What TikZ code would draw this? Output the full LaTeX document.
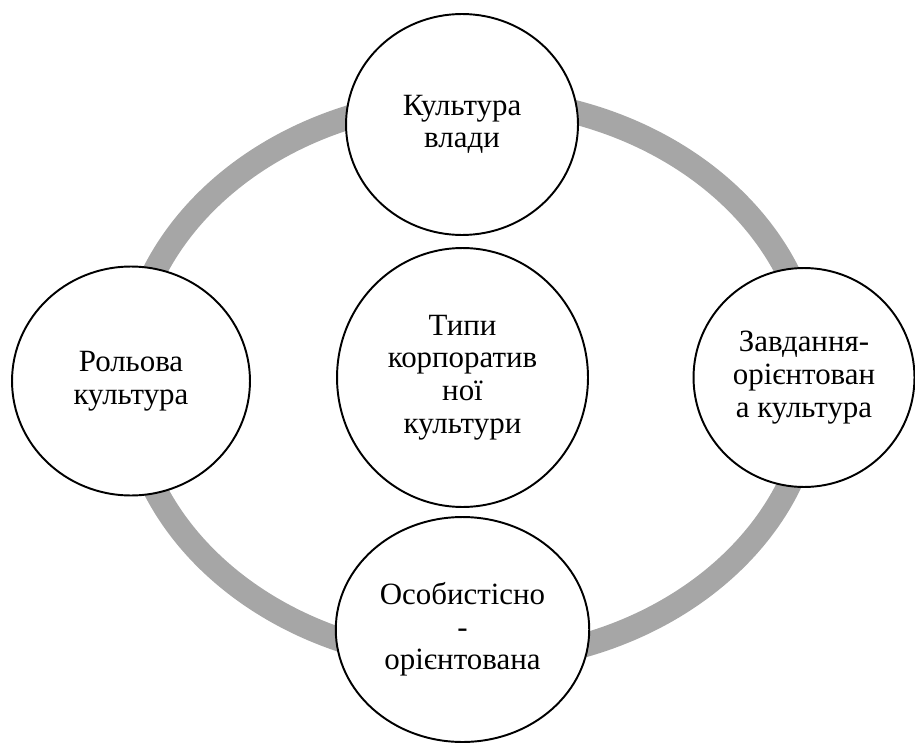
\documentclass[tikz,border=0pt]{standalone}
\usepackage{fontspec}
\setmainfont{Liberation Serif}
\usepackage{tikz}
\usetikzlibrary{shapes.geometric}
\definecolor{ringgray}{RGB}{166,166,166}

\begin{document}
\begin{tikzpicture}[x=0.02cm, y=-0.02cm,
      every node/.append style={align=center, font=\fontsize{17.6}{18.6}\selectfont},
      typebox/.style={ellipse, draw, line width=1.1pt, fill=white, inner sep=0pt}]
    \useasboundingbox (0,0) rectangle (915,743);
    \draw[ringgray, line width=0.48cm] (471,380) ellipse [x radius=6.86cm, y radius=5.62cm];
    \node (power) [typebox, minimum width=4.64cm, minimum height=4.42cm] at (462,124.5) {Культура\\влади};
    \node (types) [typebox, minimum width=5.02cm, minimum height=5.18cm] at (462.5,377.5) {Типи\\корпоратив\\ної\\культури};
    \node (role) [typebox, minimum width=4.76cm, minimum height=4.58cm] at (131,381) {Рольова\\культура};
    \node (task) [typebox, minimum width=4.42cm, minimum height=4.38cm] at (804,377.5) {Завдання-\\орієнтован\\а культура};
    \node (person) [typebox, minimum width=5.07cm, minimum height=4.5cm] at (462.5,629.5) {Особистісно\\-\\орієнтована};
  \end{tikzpicture}
\end{document}
